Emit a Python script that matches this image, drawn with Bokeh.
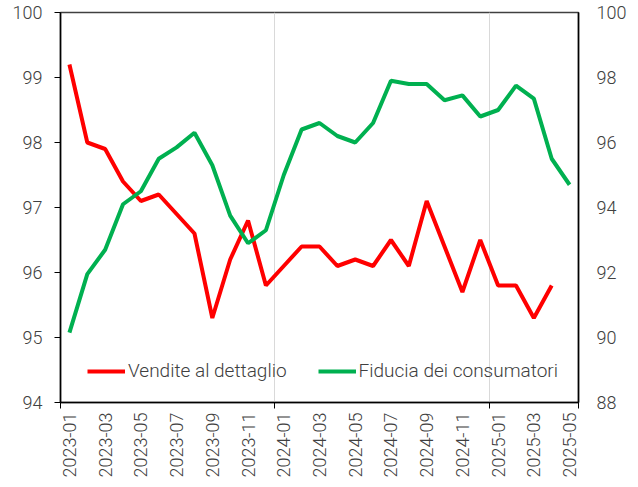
from bokeh.plotting import figure
from bokeh.models import (Range1d, LinearAxis, FixedTicker, Legend, LegendItem,
                          ColumnDataSource)
from bokeh.embed import file_html
from bokeh.resources import INLINE

months = ["2023-01", "2023-02", "2023-03", "2023-04", "2023-05", "2023-06",
          "2023-07", "2023-08", "2023-09", "2023-10", "2023-11", "2023-12",
          "2024-01", "2024-02", "2024-03", "2024-04", "2024-05", "2024-06",
          "2024-07", "2024-08", "2024-09", "2024-10", "2024-11", "2024-12",
          "2025-01", "2025-02", "2025-03", "2025-04", "2025-05"]

vendite = [99.2, 98.0, 97.9, 97.4, 97.1, 97.2, 96.9, 96.6, 95.3, 96.2, 96.8, 95.8,
           96.1, 96.4, 96.4, 96.1, 96.2, 96.1, 96.5, 96.1, 97.1, 96.4, 95.7, 96.5,
           95.8, 95.8, 95.3, 95.8]

fiducia = [90.15, 91.95, 92.7, 94.1, 94.5, 95.5, 95.85, 96.3, 95.3, 93.75, 92.9, 93.3,
           95.0, 96.4, 96.6, 96.2, 96.0, 96.6, 97.9, 97.8, 97.8, 97.3, 97.45, 96.8,
           97.0, 97.75, 97.35, 95.5, 94.7]

left_ticks = [94, 95, 96, 97, 98, 99, 100]
right_ticks = [88, 90, 92, 94, 96, 98, 100]

FONT = "'Roboto Light', Roboto"
FS = "18px"
TXT = "#404040"
RED = "#FF0000"
GREEN = "#00B050"

p = figure(frame_width=518, frame_height=390, output_backend="svg", toolbar_location=None,
           x_range=Range1d(-0.5, len(months) - 0.5), y_range=Range1d(94, 100),
           min_border_left=60, min_border_right=52, min_border_top=12, min_border_bottom=70)
p.extra_y_ranges = {"right": Range1d(88, 100)}

p.outline_line_color = "#404040"
p.outline_line_width = 1.5
p.background_fill_color = "white"
p.border_fill_color = "white"

src_v = ColumnDataSource(dict(x=list(range(len(vendite))), y=vendite))
src_f = ColumnDataSource(dict(x=list(range(len(fiducia))), y=fiducia))

r1 = p.line("x", "y", source=src_v, line_color=RED, line_width=4)
r2 = p.line("x", "y", source=src_f, line_color=GREEN, line_width=4, y_range_name="right")

# x axis
xa = p.xaxis[0]
xa.ticker = FixedTicker(ticks=list(range(0, len(months), 2)),
                        minor_ticks=[-0.5, 11.5, 23.5, len(months) - 0.5])
xa.major_label_overrides = {i: months[i] for i in range(0, len(months), 2)}
xa.major_label_orientation = 1.5707963
xa.major_tick_line_color = None
xa.minor_tick_line_color = "black"
xa.minor_tick_out = 6
xa.minor_tick_in = 0
xa.major_label_standoff = 4
xa.axis_line_color = "black"
xa.axis_line_width = 1.5
xa.major_label_text_font = FONT
xa.major_label_text_font_size = FS
xa.major_label_text_color = TXT

p.xgrid.ticker = FixedTicker(ticks=[11.5, 23.5])
p.xgrid.grid_line_color = "#d9d9d9"
p.xgrid.grid_line_width = 1
p.ygrid.grid_line_color = None

# left axis
ya = p.yaxis[0]
ya.ticker = FixedTicker(ticks=left_ticks)
ya.major_tick_out = 6
ya.major_tick_in = 0
ya.minor_tick_line_color = None
ya.major_label_standoff = 12
ya.axis_line_color = "black"
ya.axis_line_width = 1.5
ya.major_label_text_font = FONT
ya.major_label_text_font_size = FS
ya.major_label_text_color = TXT

# right axis
ra = LinearAxis(y_range_name="right", ticker=FixedTicker(ticks=right_ticks))
ra.major_tick_line_color = None
ra.minor_tick_line_color = None
ra.major_tick_out = 0
ra.major_tick_in = 0
ra.major_label_standoff = 18
ra.axis_line_color = "black"
ra.axis_line_width = 1.5
ra.major_label_text_font = FONT
ra.major_label_text_font_size = FS
ra.major_label_text_color = TXT
p.add_layout(ra, "right")

legend = Legend(items=[LegendItem(label="Vendite al dettaglio", renderers=[r1]),
                       LegendItem(label="Fiducia dei consumatori", renderers=[r2])],
                orientation="horizontal", location=(27, 20),
                glyph_width=38, glyph_height=20, label_standoff=3, spacing=31,
                padding=0, margin=0, border_line_color=None,
                background_fill_alpha=0,
                label_text_font=FONT, label_text_font_size="19px",
                label_text_color=TXT)
p.add_layout(legend, "center")

open("out.html", "w").write(file_html(p, INLINE))
